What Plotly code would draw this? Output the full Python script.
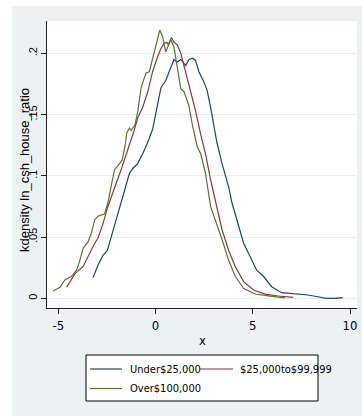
import plotly.graph_objects as go

# ---------------- data ----------------
series_names = ["Under$25,000", "$25,000to$99,999", "Over$100,000"]
series_colors = ["#1A476F", "#90353B", "#55752F"]

under_x = [-3.21, -2.96, -2.70, -2.48, -2.28, -2.02, -1.85, -1.60, -1.43, -1.34, -1.17, -0.92,
           -0.66, -0.41, -0.15, 0.10, 0.28, 0.53, 0.79, 0.95, 1.12, 1.30, 1.46, 1.55, 1.72,
           1.92, 2.06, 2.23, 2.48, 2.65, 2.83, 3.00, 3.16, 3.42, 3.76, 3.93, 4.18, 4.53, 4.87,
           5.20, 5.55, 5.97, 6.48, 7.24, 7.84, 8.35, 8.78, 9.20, 9.63]
under_y = [0.017, 0.027, 0.035, 0.039, 0.050, 0.064, 0.073, 0.086, 0.097, 0.102, 0.106, 0.110,
           0.118, 0.127, 0.138, 0.157, 0.172, 0.178, 0.188, 0.195, 0.193, 0.195, 0.192, 0.190, 0.195,
           0.196, 0.194, 0.185, 0.177, 0.170, 0.156, 0.140, 0.127, 0.110, 0.091, 0.078, 0.064, 0.045, 0.034,
           0.023, 0.018, 0.0095, 0.0046, 0.0035, 0.0027, 0.0013, 0.0, 0.0, 0.0005]

mid_x = [-4.57, -4.15, -3.72, -3.47, -3.13, -2.96, -2.70, -2.45, -2.28, -2.02, -1.77, -1.50,
         -1.25, -1.10, -0.92, -0.66, -0.41, -0.15, 0.10, 0.28, 0.44, 0.58, 0.66, 0.82, 0.95,
         1.12, 1.30, 1.55, 1.81, 2.06, 2.32, 2.57, 2.83, 3.08, 3.42, 3.76, 4.10, 4.53, 5.04,
         5.63, 6.31, 7.08]
mid_y = [0.009, 0.020, 0.026, 0.034, 0.045, 0.049, 0.061, 0.075, 0.083, 0.094, 0.105, 0.118,
         0.129, 0.137, 0.147, 0.156, 0.168, 0.185, 0.197, 0.204, 0.208, 0.209, 0.207, 0.213, 0.209,
         0.207, 0.200, 0.185, 0.170, 0.153, 0.134, 0.118, 0.097, 0.080, 0.056, 0.039, 0.026, 0.0136, 0.0068,
         0.0035, 0.0019, 0.0008]

over_x = [-5.27, -4.91, -4.66, -4.32, -4.06, -3.89, -3.72, -3.47, -3.30, -3.13, -2.96, -2.62,
          -2.45, -2.28, -2.11, -1.95, -1.71, -1.55, -1.48, -1.34, -1.25, -1.05, -0.92, -0.74,
          -0.49, -0.32, -0.15, 0.02, 0.22, 0.36, 0.53, 0.62, 0.79, 0.95, 1.12, 1.30, 1.46, 1.72,
          1.89, 2.14, 2.32, 2.57, 2.83, 3.08, 3.42, 3.76, 4.10, 4.53, 5.12, 5.80, 6.65]
over_y = [0.006, 0.009, 0.015, 0.018, 0.023, 0.031, 0.041, 0.046, 0.053, 0.064, 0.067, 0.069,
          0.078, 0.091, 0.105, 0.108, 0.113, 0.126, 0.135, 0.139, 0.137, 0.142, 0.152, 0.172,
          0.184, 0.185, 0.196, 0.208, 0.219, 0.214, 0.201, 0.205, 0.211, 0.205, 0.189, 0.171, 0.169, 0.157,
          0.142, 0.124, 0.118, 0.102, 0.075, 0.064, 0.048, 0.031, 0.018, 0.008, 0.0035, 0.002, 0.0003]

x_tickvals = [-5, 0, 5, 10]
x_ticktext = ["-5", "0", "5", "10"]
y_tickvals = [0, 0.05, 0.1, 0.15, 0.2]
y_ticktext = ["0", ".05", ".1", ".15", ".2"]
x_title = "x"
y_title = "kdensity ln_csh_house_ratio"

# ---------------- layout geometry (pixels) ----------------
W, H = 362, 416
L, R, T, B = 47, 5, 21, 108
PW, PH = W - L - R, H - T - B


def px(x):
    return (x - L) / PW


def py(y):
    return (H - B - y) / PH


NARROW = "Liberation Sans Narrow, DejaVu Sans Condensed, Arial Narrow, sans-serif"
REG = "Liberation Sans, Arial, sans-serif"
BG = "#EAF2F3"

fig = go.Figure()
xs = [under_x, mid_x, over_x]
ys = [under_y, mid_y, over_y]
for name, col, xx, yy in zip(series_names, series_colors, xs, ys):
    fig.add_trace(go.Scatter(x=xx, y=yy, mode="lines", name=name,
                             line=dict(color=col, width=1.2), showlegend=False))

shapes = []
annotations = []
# white strips outside the graph region
shapes.append(dict(type="rect", xref="paper", yref="paper", x0=px(-2), x1=px(12), y0=py(H + 2), y1=py(-2),
                   fillcolor="white", line=dict(width=0), layer="below"))
shapes.append(dict(type="rect", xref="paper", yref="paper", x0=px(-2), x1=px(W + 2), y0=py(6), y1=py(-2),
                   fillcolor="white", line=dict(width=0), layer="below"))

# legend box
shapes.append(dict(type="rect", xref="paper", yref="paper", x0=px(86), x1=px(318), y0=py(401), y1=py(355),
                   fillcolor="white", line=dict(color="black", width=1)))
leg_pos = [(90, 122, 128, 369), (200, 233, 238, 369), (90, 122, 128, 388.5)]
for (lx0, lx1, tx, ly), name, col in zip(leg_pos, series_names, series_colors):
    shapes.append(dict(type="line", xref="paper", yref="paper", x0=px(lx0), x1=px(lx1), y0=py(ly), y1=py(ly),
                       line=dict(color=col, width=1.2)))
    annotations.append(dict(xref="paper", yref="paper", x=px(tx), y=py(ly), text=name, showarrow=False,
                            xanchor="left", yanchor="middle", font=dict(family=NARROW, size=11, color="black")))

# axis titles
annotations.append(dict(xref="paper", yref="paper", x=px(202), y=py(340), text=x_title, showarrow=False,
                        xanchor="center", yanchor="middle", font=dict(family=NARROW, size=13, color="black")))
annotations.append(dict(xref="paper", yref="paper", x=px(24), y=py(170), text=y_title, showarrow=False,
                        textangle=-90, xanchor="center", yanchor="middle",
                        font=dict(family=REG, size=13, color="black")))

fig.update_layout(
    width=W, height=H,
    margin=dict(l=L, r=R, t=T, b=B, pad=0),
    paper_bgcolor=BG, plot_bgcolor="white",
    shapes=shapes, annotations=annotations,
    xaxis=dict(range=[-5.58, 10.36], tickvals=x_tickvals, ticktext=x_ticktext,
               showgrid=False, zeroline=False, showline=True, linecolor="#222", linewidth=1,
               ticks="outside", ticklen=5, tickcolor="#222", tickwidth=1,
               tickfont=dict(family=NARROW, size=13, color="black")),
    yaxis=dict(range=[-0.0079, 0.2264], tickvals=y_tickvals, ticktext=y_ticktext,
               showgrid=True, gridcolor="#E4EEF0", gridwidth=1, zeroline=False,
               showline=True, linecolor="#222", linewidth=1,
               ticks="outside", ticklen=5, tickcolor="#222", tickwidth=1, tickangle=-90,
               tickfont=dict(family=REG, size=11, color="black")),
)

fig.write_html("out.html")
